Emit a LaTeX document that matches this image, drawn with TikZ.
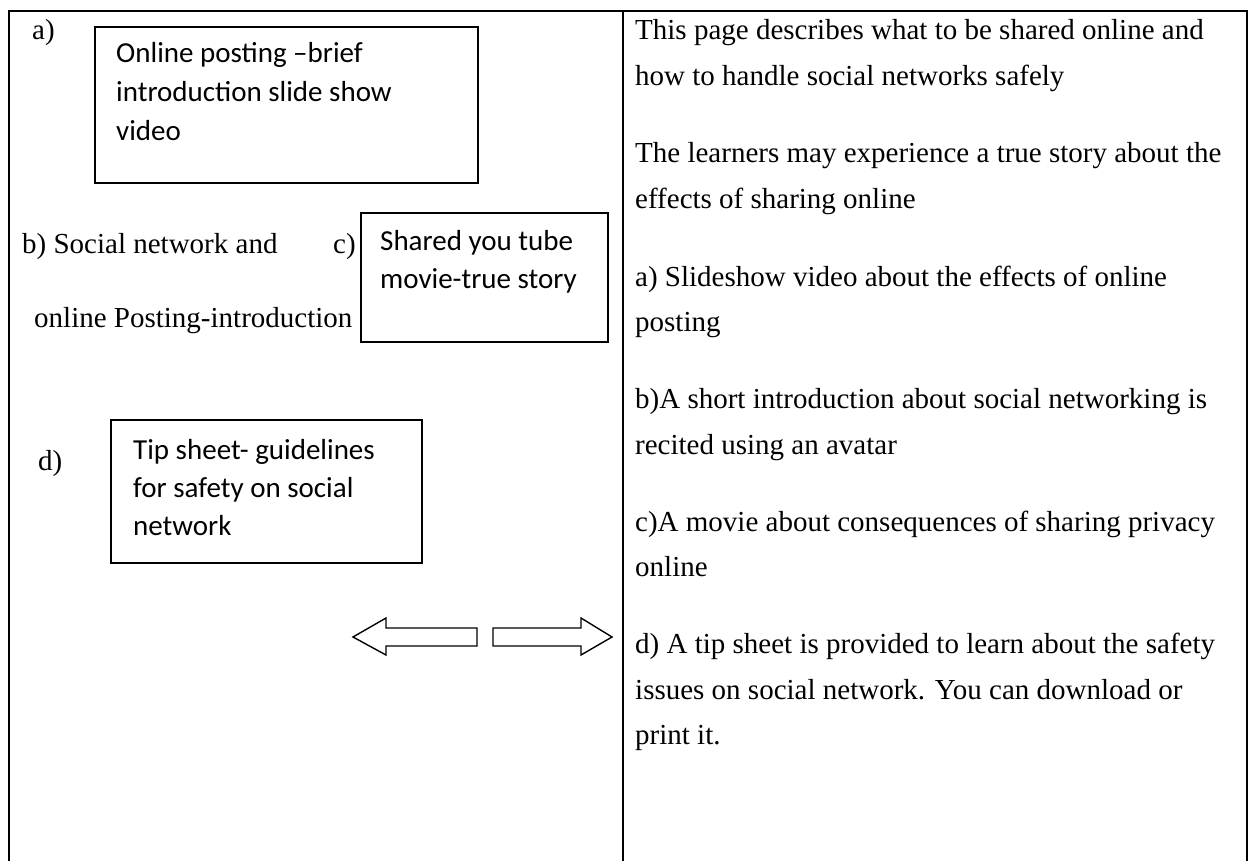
\documentclass[tikz,border=0pt]{standalone}
\usepackage{fontspec}
\setmainfont{Liberation Serif}
\newfontfamily\boxfont{Carlito}
\begin{document}
\begin{tikzpicture}[x=1pt,y=-1pt,
  frame/.style={line width=2.6pt, line cap=rect},
  itembox/.style={draw, line width=1.8pt, anchor=north west, inner sep=0pt},
  boxtext/.style={anchor=base west, inner sep=0pt, font=\boxfont\fontsize{29}{29}\selectfont},
  serif/.style={anchor=base west, inner sep=0pt, font=\fontsize{29}{29}\selectfont},
  blockarrow/.style={draw, line width=1.4pt, line join=miter}]
\useasboundingbox (0,0) rectangle (1250,861);

% table frame: open at the bottom, two columns
\draw[frame] (9,861) -- (9,11) -- (1247,11) -- (1247,861);
\draw[frame] (623,11) -- (623,861);

% left column: boxed items
\node[itembox, minimum width=383pt, minimum height=156pt] (boxa) at (94,26) {};
\node[itembox, minimum width=247pt, minimum height=129pt] (boxc) at (360,212) {};
\node[itembox, minimum width=311pt, minimum height=143pt] (boxd) at (110,419) {};

\node[boxtext] (a1) at (116,63)  {Online posting –brief};
\node[boxtext] (a2) at (116,102) {introduction slide show};
\node[boxtext] (a3) at (116,141) {video};

\node[boxtext] (c1) at (380,251) {Shared you tube};
\node[boxtext] (c2) at (380,288) {movie-true story};

\node[boxtext] (d1) at (133,459) {Tip sheet- guidelines};
\node[boxtext] (d2) at (133,497) {for safety on social};
\node[boxtext] (d3) at (133,535) {network};

% left column: item labels
\node[serif] (la) at (32,40)  {a)};
\node[serif] (lb) at (22,253) {b) Social network and};
\node[serif] (lc) at (333,253) {c)};
\node[serif] (lb2) at (34,327) {online Posting-introduction};
\node[serif] (ld) at (38,470) {d)};

% outlined block arrows
\draw[blockarrow] (353,637) -- (386,618) -- (386,628) -- (477,628) -- (477,646)
  -- (386,646) -- (386,655) -- cycle;
\draw[blockarrow] (612,637) -- (581,618) -- (581,628) -- (493,628) -- (493,646)
  -- (581,646) -- (581,655) -- cycle;

% right column: description
\node[serif] (r1)  at (635,40)    {This page describes what to be shared online and};
\node[serif] (r2)  at (635,86)    {how to handle social networks safely};
\node[serif] (r3)  at (635,163)   {The learners may experience a true story about the};
\node[serif] (r4)  at (635,209)   {effects of sharing online};
\node[serif] (r5)  at (635,286)   {a) Slideshow video about the effects of online};
\node[serif] (r6)  at (635,331.5) {posting};
\node[serif] (r7)  at (635,408.5) {b)A short introduction about social networking is};
\node[serif] (r8)  at (635,454)   {recited using an avatar};
\node[serif] (r9)  at (635,531)   {c)A movie about consequences of sharing privacy};
\node[serif] (r10) at (635,576.5) {online};
\node[serif] (r11) at (635,653.5) {d) A tip sheet is provided to learn about the safety};
\node[serif] (r12) at (635,699)   {issues on social network. You can download or};
\node[serif] (r13) at (635,744.5) {print it.};
\end{tikzpicture}
\end{document}
